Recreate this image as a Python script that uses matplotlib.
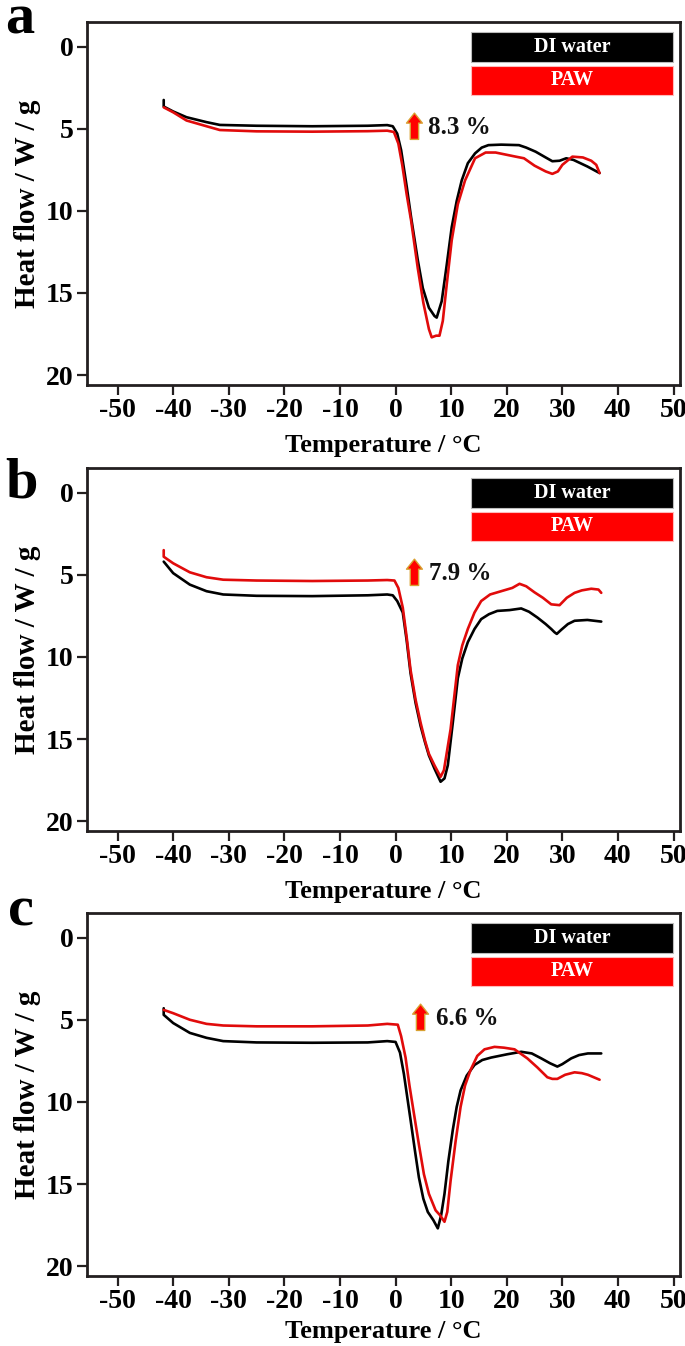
import matplotlib
matplotlib.use("Agg")
import matplotlib.pyplot as plt
from matplotlib.patches import Rectangle

plt.rcParams['font.family'] = ['Liberation Serif', 'DejaVu Serif']
plt.rcParams['font.weight'] = 'bold'
plt.rcParams['axes.unicode_minus'] = False

# --- data (Temperature / degC, Heat flow / W/g) ---
a_di_x = [-41.7, -41.7, -40, -37.6, -34, -31.6, -25, -15, -5, -1.5, -0.5, 0.3, 1.0, 2.0, 2.8, 4.0, 4.9, 6.0,
          7.0, 7.4, 8.3, 9.2, 10.1, 11.0, 11.9, 13.0, 14.3, 15.5, 16.7, 19, 22.2, 23.5, 25.2, 27, 28.2, 29.5,
          30.7, 32, 34.5, 36.7]
a_di_y = [3.25, 3.65, 3.95, 4.3, 4.6, 4.77, 4.82, 4.85, 4.82, 4.78, 4.85, 5.3, 6.3, 8.5, 10.4, 13.0, 14.7, 15.9,
          16.4, 16.5, 15.5, 13.3, 11.0, 9.4, 8.15, 7.1, 6.5, 6.15, 6.0, 5.97, 6.0, 6.15, 6.4, 6.75, 6.98, 6.95,
          6.8, 6.9, 7.3, 7.7]
a_paw_x = [-41.7, -40, -37.6, -34, -31.6, -25, -15, -5, -1.5, -0.3, 0.5, 1.2, 2.0, 2.8, 4.0, 5.0, 6.0, 6.5,
           7.3, 7.9, 8.5, 9.2, 10.1, 11.2, 12.5, 14.3, 16.2, 18, 21.6, 23.1, 25, 27, 28.2, 29.2, 30.0, 31.8,
           33.7, 35.2, 36.1, 36.7]
a_paw_y = [3.7, 4.0, 4.5, 4.85, 5.08, 5.16, 5.18, 5.15, 5.12, 5.2, 5.9, 7.2, 9.0, 10.6, 13.5, 15.6, 17.2, 17.7,
           17.6, 17.6, 16.7, 14.5, 11.8, 9.6, 8.15, 6.8, 6.45, 6.45, 6.7, 6.8, 7.25, 7.6, 7.75, 7.6, 7.2, 6.7,
           6.75, 6.95, 7.2, 7.7]

b_di_x = [-41.7, -40, -37, -34, -31, -25, -15, -5, -1.5, -0.5, 0.3, 1.3, 2.0, 2.7, 3.6, 4.5, 5.3, 6.0, 7.0,
          8.1, 8.8, 9.4, 10.3, 11.2, 12.0, 13.0, 14.2, 15.4, 16.8, 18.3, 20.5, 22.6, 24, 25.5, 27, 28.0, 28.6,
          29.0, 29.8, 31, 32.2, 34.5, 37.0]
b_di_y = [4.2, 4.9, 5.6, 6.0, 6.2, 6.28, 6.3, 6.25, 6.2, 6.25, 6.6, 7.3, 9.0, 11.0, 12.8, 14.2, 15.2, 16.0,
          16.8, 17.6, 17.4, 16.6, 14.0, 11.3, 10.1, 9.1, 8.3, 7.7, 7.4, 7.2, 7.15, 7.05, 7.25, 7.6, 8.0, 8.3,
          8.5, 8.6, 8.35, 8.0, 7.8, 7.75, 7.85]
b_paw_x = [-41.7, -41.7, -40, -37, -34, -31, -25, -15, -5, -1.5, -0.2, 0.5, 1.3, 2.0, 2.7, 3.6, 4.5, 5.3,
           6.0, 7.0, 8.1, 8.7, 9.9, 10.6, 11.2, 12.0, 13.0, 14.2, 15.4, 17, 19.0, 21, 22.3, 23.5, 25.0, 26.5,
           28.0, 29.5, 30.8, 32.2, 33.5, 35.2, 36.5, 37.0]
b_paw_y = [3.5, 3.9, 4.3, 4.85, 5.15, 5.3, 5.35, 5.38, 5.35, 5.32, 5.35, 5.8, 7.0, 8.8, 10.8, 12.6, 14.0,
           15.1, 15.9, 16.6, 17.3, 16.9, 14.4, 12.3, 10.5, 9.3, 8.3, 7.3, 6.6, 6.2, 6.0, 5.8, 5.55, 5.7, 6.07,
           6.4, 6.8, 6.85, 6.4, 6.1, 5.95, 5.85, 5.9, 6.1]

c_di_x = [-41.7, -41.7, -40, -37, -34, -31, -25, -15, -5, -1.5, 0.0, 0.8, 1.5, 2.1, 2.7, 3.5, 4.2, 5.0, 5.8,
          6.8, 7.6, 8.2, 8.8, 9.5, 10.3, 11.0, 11.7, 12.8, 14.2, 15.6, 17.2, 20.1, 22.6, 24.5, 26.2, 27.8,
          29.1, 30.0, 31.6, 33, 34.6, 37.0]
c_di_y = [4.3, 4.7, 5.2, 5.8, 6.1, 6.3, 6.38, 6.4, 6.38, 6.3, 6.35, 7.0, 8.3, 9.7, 11.1, 13.0, 14.6, 15.9,
          16.7, 17.2, 17.7, 16.9, 15.6, 13.6, 11.7, 10.3, 9.3, 8.4, 7.75, 7.45, 7.3, 7.1, 6.95, 7.05, 7.35,
          7.65, 7.85, 7.7, 7.35, 7.15, 7.05, 7.05]
c_paw_x = [-41.7, -40, -37, -34, -31, -25, -15, -5, -1.5, 0.4, 1.0, 1.8, 2.5, 3.3, 4.2, 5.1, 6.0, 7.2, 8.0,
           8.8, 9.3, 9.9, 10.8, 11.7, 12.5, 13.5, 14.7, 16.0, 17.8, 19.5, 21.4, 23.7, 25.5, 27.3, 28.2, 29.1,
           30.5, 32.2, 33.5, 34.6, 36.7]
c_paw_y = [4.4, 4.6, 5.0, 5.25, 5.35, 5.4, 5.4, 5.35, 5.25, 5.3, 6.0, 7.3, 9.0, 10.7, 12.6, 14.4, 15.6,
           16.6, 16.9, 17.3, 16.7, 14.8, 12.4, 10.3, 9.0, 8.05, 7.2, 6.8, 6.65, 6.7, 6.8, 7.35, 7.9, 8.5, 8.6,
           8.6, 8.35, 8.2, 8.25, 8.35, 8.65]

letters = ["a", "b", "c"]
increase = ["8.3 %", "7.9 %", "6.6 %"]
series_names = ["DI water", "PAW"]
x_ticks = [-50, -40, -30, -20, -10, 0, 10, 20, 30, 40, 50]
y_ticks = [0, 5, 10, 15, 20]

INK = "#231f20"
RED = "#e10b0b"


def draw_panel(ax, dix, diy, pawx, pawy, pct, arrow_x, text_x, xpad):
    ax.plot(dix, diy, color="black", lw=1.9, solid_joinstyle="round", solid_capstyle="round")
    ax.plot(pawx, pawy, color=RED, lw=1.9, solid_joinstyle="round", solid_capstyle="round")
    ax.set_xlim(-55.5, 51.2)
    ax.set_ylim(20.6, -1.5)
    ax.set_xticks(x_ticks)
    ax.set_yticks(y_ticks)
    ax.tick_params(direction="out", length=7.5, width=1.6, color=INK, labelsize=20, pad=2,
                   top=False, right=False)
    for s in ax.spines.values():
        s.set_linewidth(2)
        s.set_color(INK)
    ax.set_xlabel("Temperature / \u00b0C", fontsize=19, fontweight="bold", labelpad=xpad)
    ax.set_ylabel("Heat flow / W / g", fontsize=21, fontweight="bold")
    ax.yaxis.set_label_coords(-0.078, 0.5)

    # legend drawn as coloured bars
    ax.add_patch(Rectangle((0.648, 0.89), 0.34, 0.083, transform=ax.transAxes, fc="black",
                           ec="#bbbbbb", lw=0.8))
    ax.add_patch(Rectangle((0.648, 0.799), 0.34, 0.081, transform=ax.transAxes, fc="#ff0000",
                           ec="#ffbbbb", lw=0.8))
    ax.text(0.818, 0.931, series_names[0], transform=ax.transAxes, color="white", fontsize=14.5,
            fontweight="bold", ha="center", va="center")
    ax.text(0.818, 0.839, series_names[1], transform=ax.transAxes, color="white", fontsize=14.5,
            fontweight="bold", ha="center", va="center")

    # arrow + increase label
    ax.annotate("", xy=(arrow_x, 4.05), xytext=(arrow_x, 5.65),
                arrowprops=dict(arrowstyle="simple,head_width=0.95,head_length=0.6,tail_width=0.5",
                                fc="red", ec="#d9a030", lw=1, mutation_scale=12,
                                shrinkA=0, shrinkB=0))
    ax.text(text_x, 4.9, pct, fontsize=18, fontweight="bold", ha="left", va="center", color="#111111")


fig = plt.figure(figsize=(6.85, 13.46), dpi=100)
boxes = [[0.127, 0.714, 0.866, 0.2697],
         [0.127, 0.3826, 0.866, 0.2697],
         [0.127, 0.052, 0.866, 0.2697]]
arrow_xs = [3.4, 3.4, 4.5]
text_xs = [5.9, 6.0, 7.2]
xpads = [8, 8, 4]
letter_xy = [(5, 34), (5, 497), (8, 925)]
data = [(a_di_x, a_di_y, a_paw_x, a_paw_y),
        (b_di_x, b_di_y, b_paw_x, b_paw_y),
        (c_di_x, c_di_y, c_paw_x, c_paw_y)]

for i in range(3):
    ax = fig.add_axes(boxes[i])
    dx, dy, px, py = data[i]
    draw_panel(ax, dx, dy, px, py, increase[i], arrow_xs[i], text_xs[i], xpads[i])
    lx, ly = letter_xy[i]
    fig.text(lx / 685, 1 - ly / 1346, letters[i], fontsize=42, fontweight="bold",
             ha="left", va="baseline")

fig.savefig("out.png", dpi=100)
